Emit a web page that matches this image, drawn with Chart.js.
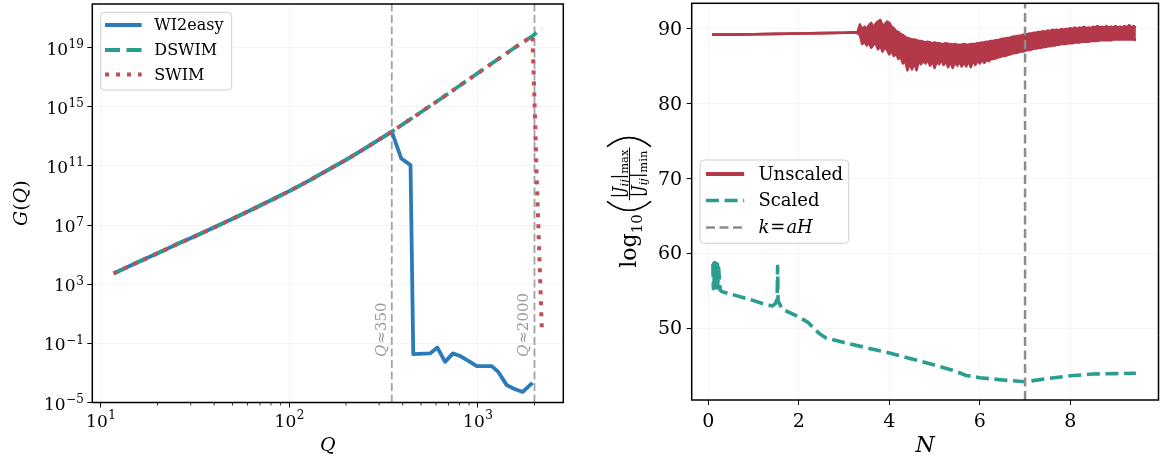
<!DOCTYPE html>
<html>
<head>
<meta charset="utf-8">
<script src="https://cdn.jsdelivr.net/npm/chart.js@4.4.0/dist/chart.umd.min.js"></script>
<style>
  html, body { margin: 0; padding: 0; background: #fff; }
  #wrap { position: relative; width: 1167px; height: 461px; }
  #left { position: absolute; left: 0; top: 0; }
  #right { position: absolute; left: 580px; top: 0; }
</style>
</head>
<body>
<div id="wrap">
  <canvas id="left" width="580" height="461"></canvas>
  <canvas id="right" width="587" height="461"></canvas>
</div>
<script>
// ---- G(Q) panel data ----
// common branch, all three methods agree up to Q ~ 350
var qLow = [11.7, 15.8, 20.0, 25.1, 31.6, 39.8, 50.1, 63.1, 79.4, 100, 126, 158, 200, 251, 316, 350];
var gLow = [5.4e3, 3.2e4, 1.23e5, 4.8e5, 1.74e6, 6.8e6, 2.7e7, 1.1e8, 4.6e8, 2.0e9, 9.5e9, 4.8e10, 2.6e11, 1.48e12, 9.3e12, 2.1e13];
// DSWIM / SWIM keep growing
var qHigh = [398, 501, 631, 794, 1000, 1259, 1585, 1950];
var gHigh = [6.3e13, 4.5e14, 3.3e15, 2.5e16, 1.9e17, 1.45e18, 1.1e19, 6.2e19];
var qDswimEnd = [2193];
var gDswimEnd = [1.9e20];
// SWIM breaks down right after Q ~ 2000
var qSwimDrop = [2000, 2047, 2103, 2163, 2191];
var gSwimDrop = [2.9e15, 8.9e10, 2.75e6, 83, 0.47];
// WI2easy breaks down right after Q ~ 350
var qWiTail = [393, 440, 455, 558, 611, 671, 738, 806, 892, 988, 1187, 1286, 1425, 1577, 1733, 1950];
var gWiTail = [3.2e11, 1.15e11, 0.0186, 0.021, 0.052, 0.0056, 0.021, 0.014, 0.0066, 0.0029, 0.0029, 0.00117, 1.5e-4, 7.9e-5, 5.2e-5, 2.1e-4];

var qMarks = [350, 2000];
var qTickExp = [1, 2, 3];
var gTickExp = [-5, -1, 3, 7, 11, 15, 19];
var qMinor = [20, 30, 40, 50, 60, 70, 80, 90, 200, 300, 400, 500, 600, 700, 800, 900, 2000];

// ---- condition number panel data ----
var nFlat = [0.08, 0.5, 1.0, 1.5, 2.0, 2.5, 3.0, 3.25];
var vFlat = [89.25, 89.25, 89.3, 89.35, 89.4, 89.45, 89.5, 89.55];
// the unscaled curve oscillates fast after N ~ 3.3: its upper and lower
// envelopes, sampled every 0.05 in N from N = 3.30
var nBandStart = 3.30, nBandStep = 0.05;
var vUpper = [
  89.6, 90.6, 89.9, 90.3, 90.0, 90.5, 90.8, 90.2, 90.7, 91.0,
  91.2, 90.5, 90.6, 91.0, 90.8, 90.3, 90.1, 89.7, 89.6, 89.3,
  89.2, 88.9, 88.8, 88.7, 88.6, 88.6, 88.5, 88.4, 88.4, 88.3,
  88.2, 88.3, 88.2, 88.1, 88.2, 88.1, 88.1, 88.0, 88.0, 88.1,
  88.0, 88.0, 87.9, 88.0, 87.9, 87.9, 87.9, 88.0, 87.9, 87.9,
  88.0, 88.0, 88.0, 88.1, 88.1, 88.2, 88.2, 88.3, 88.3, 88.4,
  88.4, 88.5, 88.5, 88.6, 88.7, 88.7, 88.8, 88.8, 88.9, 89.0,
  89.0, 89.1, 89.1, 89.2, 89.3, 89.3, 89.4, 89.4, 89.5, 89.5,
  89.6, 89.6, 89.7, 89.6, 89.8, 89.7, 89.9, 89.8, 89.9, 89.8,
  90.0, 89.9, 90.0, 90.0, 90.1, 90.0, 90.2, 90.0, 90.2, 90.1,
  90.3, 90.1, 90.2, 90.1, 90.3, 90.2, 90.4, 90.2, 90.3, 90.2,
  90.4, 90.2, 90.3, 90.2, 90.4, 90.2, 90.3, 90.2, 90.4, 90.2,
  90.5, 90.2, 90.4, 90.2
];
var vLower = [
  89.4, 89.2, 88.0, 88.3, 87.8, 88.2, 87.5, 87.9, 88.1, 87.3,
  87.8, 87.0, 87.6, 87.2, 86.6, 87.1, 86.4, 86.8, 86.0, 86.3,
  85.4, 85.8, 84.5, 85.5, 84.6, 85.6, 84.5, 85.7, 85.3, 85.8,
  85.4, 85.9, 85.1, 85.8, 84.8, 85.7, 85.3, 85.9, 85.2, 85.8,
  84.9, 85.7, 84.8, 85.6, 85.1, 85.7, 85.0, 85.6, 85.0, 85.8,
  84.9, 85.8, 85.2, 85.8, 85.4, 85.9, 85.5, 85.9, 85.7, 86.0,
  86.0, 86.1, 86.2, 86.3, 86.4, 86.4, 86.5, 86.6, 86.7, 86.8,
  86.8, 86.9, 87.0, 87.0, 87.1, 87.2, 87.2, 87.3, 87.4, 87.4,
  87.5, 87.5, 87.6, 87.6, 87.7, 87.7, 87.8, 87.8, 87.9, 87.9,
  88.0, 88.0, 88.0, 88.1, 88.1, 88.1, 88.2, 88.2, 88.2, 88.3,
  88.3, 88.3, 88.3, 88.4, 88.4, 88.4, 88.4, 88.5, 88.5, 88.5,
  88.5, 88.5, 88.5, 88.6, 88.6, 88.6, 88.6, 88.6, 88.6, 88.6,
  88.6, 88.6, 88.6, 88.5
];
var nScaled = [0.10, 0.11, 0.12, 0.13, 0.14, 0.15, 0.16, 0.17, 0.18, 0.19, 0.20, 0.21, 0.22, 0.26, 0.30, 0.60, 1.00, 1.30, 1.42, 1.48,
               1.52, 1.53, 1.54, 1.58, 1.62, 2.00, 2.20, 2.45, 2.60, 3.00, 3.50, 4.00, 4.50, 5.00, 5.40, 5.70, 6.00, 6.50, 7.00, 7.50,
               8.00, 8.50, 9.00, 9.45];
var vScaled = [58.6, 55.3, 58.7, 55.4, 58.8, 55.3, 58.7, 55.5, 58.8, 55.4, 58.6, 55.5, 58.5, 55.1, 54.9, 54.4, 53.7, 53.1, 53.0, 53.3,
               53.9, 58.3, 53.7, 53.2, 52.6, 51.5, 50.8, 49.3, 48.7, 48.1, 47.4, 46.7, 45.9, 45.1, 44.4, 43.7, 43.4, 43.1, 42.85, 43.3,
               43.65, 43.9, 43.95, 44.0];
var nHorizon = 7.0;
var nTicks = [0, 2, 4, 6, 8];
var vTicks = [50, 60, 70, 80, 90];

var SERIF = "'DejaVu Serif', serif";
var BLUE = '#2b7bba', TEAL = '#2a9d8f', RED = '#c44e57', CRIMSON = '#b3394a';

function pts(xs, ys) {
  return xs.map(function (x, i) { return { x: x, y: ys[i] }; });
}

function sup(n) { return n < 0 ? '\u2212' + (-n) : String(n); }

function roundRect(ctx, x, y, w, h, r) {
  ctx.beginPath();
  ctx.moveTo(x + r, y);
  ctx.arcTo(x + w, y, x + w, y + h, r);
  ctx.arcTo(x + w, y + h, x, y + h, r);
  ctx.arcTo(x, y + h, x, y, r);
  ctx.arcTo(x, y, x + w, y, r);
  ctx.closePath();
}

function legendBox(ctx, x0, y0, x1, y1) {
  roundRect(ctx, x0, y0, x1 - x0, y1 - y0, 4);
  ctx.fillStyle = 'rgba(255,255,255,0.8)';
  ctx.fill();
  ctx.strokeStyle = '#cfcfcf';
  ctx.lineWidth = 1;
  ctx.stroke();
}

function sample(ctx, x0, x1, y, color, width, dash) {
  ctx.save();
  ctx.beginPath();
  ctx.setLineDash(dash || []);
  ctx.strokeStyle = color;
  ctx.lineWidth = width;
  ctx.moveTo(x0, y);
  ctx.lineTo(x1, y);
  ctx.stroke();
  ctx.restore();
}

function frame(ctx, a) {
  ctx.strokeStyle = '#000';
  ctx.lineWidth = 1.5;
  ctx.strokeRect(a.left, a.top, a.right - a.left, a.bottom - a.top);
}

// ---------------------------------------------------------------- left
var gMin = 1e-5, gMax = 9.1e21, qMin = 9.02, qMax = 2844;

var lowPts = pts(qLow, gLow);
var wiData = lowPts.concat(pts(qWiTail, gWiTail));
var dswimData = lowPts.concat(pts(qHigh, gHigh), pts(qDswimEnd, gDswimEnd));
var swimData = lowPts.concat(pts(qHigh, gHigh), pts(qSwimDrop, gSwimDrop));

var leftDecor = {
  id: 'leftDecor',
  afterDatasetsDraw: function (chart) {
    var ctx = chart.ctx, a = chart.chartArea, xs = chart.scales.x, ys = chart.scales.y;
    ctx.save();

    // minor ticks on the Q axis
    ctx.strokeStyle = '#000';
    ctx.lineWidth = 0.8;
    qMinor.forEach(function (v) {
      var px = xs.getPixelForValue(v);
      ctx.beginPath();
      ctx.moveTo(px, a.bottom);
      ctx.lineTo(px, a.bottom + 3);
      ctx.stroke();
    });
    frame(ctx, a);

    // tick labels 10^n
    ctx.fillStyle = '#000';
    ctx.textBaseline = 'alphabetic';
    ctx.textAlign = 'left';
    gTickExp.forEach(function (e) {
      var py = ys.getPixelForValue(Math.pow(10, e));
      ctx.font = '17px ' + SERIF;
      var w10 = ctx.measureText('10').width;
      ctx.font = '12px ' + SERIF;
      var we = ctx.measureText(sup(e)).width;
      var x0 = a.left - 9 - w10 - we;
      ctx.font = '17px ' + SERIF;
      ctx.fillText('10', x0, py + 7);
      ctx.font = '12px ' + SERIF;
      ctx.fillText(sup(e), x0 + w10 + 0.5, py + 0.5);
    });
    qTickExp.forEach(function (e) {
      var px = xs.getPixelForValue(Math.pow(10, e));
      ctx.font = '17px ' + SERIF;
      var w10 = ctx.measureText('10').width;
      ctx.font = '12px ' + SERIF;
      var we = ctx.measureText(sup(e)).width;
      var x0 = px - (w10 + we) / 2;
      ctx.font = '17px ' + SERIF;
      ctx.fillText('10', x0, a.bottom + 24);
      ctx.font = '12px ' + SERIF;
      ctx.fillText(sup(e), x0 + w10 + 0.5, a.bottom + 16.5);
    });

    // axis titles
    ctx.font = 'italic 19px ' + SERIF;
    ctx.textAlign = 'center';
    ctx.fillText('Q', (a.left + a.right) / 2, 451);

    ctx.save();
    ctx.translate(27, (a.top + a.bottom) / 2);
    ctx.rotate(-Math.PI / 2);
    var parts = [['italic 19px ', 'G'], ['19px ', '('], ['italic 19px ', 'Q'], ['19px ', ')']];
    var tw = 0;
    parts.forEach(function (p) { ctx.font = p[0] + SERIF; tw += ctx.measureText(p[1]).width; });
    var cx = -tw / 2;
    ctx.textAlign = 'left';
    parts.forEach(function (p) { ctx.font = p[0] + SERIF; ctx.fillText(p[1], cx, 0); cx += ctx.measureText(p[1]).width; });
    ctx.restore();

    // rotated notes next to the dashed markers
    ctx.fillStyle = '#9a9a9a';
    qMarks.forEach(function (q) {
      var px = xs.getPixelForValue(q);
      ctx.save();
      ctx.translate(px - 6, 357);
      ctx.rotate(-Math.PI / 2);
      ctx.textAlign = 'left';
      ctx.font = 'italic 15px ' + SERIF;
      ctx.fillText('Q', 0, 0);
      var wq = ctx.measureText('Q').width;
      ctx.font = '15px ' + SERIF;
      ctx.fillText('\u2248' + q, wq + 1, 0);
      ctx.restore();
    });

    // legend
    legendBox(ctx, 100.7, 12.3, 231.7, 90);
    sample(ctx, 105, 141.7, 25, BLUE, 3.8);
    sample(ctx, 105, 141.7, 50, TEAL, 3.8, [15, 6.5]);
    sample(ctx, 105, 141.7, 74.5, RED, 4, [4, 7]);
    ctx.fillStyle = '#000';
    ctx.font = '16px ' + SERIF;
    ctx.textAlign = 'left';
    ctx.textBaseline = 'middle';
    ctx.fillText('WI2easy', 154.3, 26);
    ctx.fillText('DSWIM', 154.3, 51);
    ctx.fillText('SWIM', 154.3, 75.5);

    ctx.restore();
  }
};

new Chart(document.getElementById('left'), {
  type: 'line',
  data: {
    datasets: [
      { label: 'WI2easy', data: wiData, borderColor: BLUE, borderWidth: 3.8, order: 3 },
      { label: 'DSWIM', data: dswimData, borderColor: TEAL, borderWidth: 3.8, borderDash: [15, 6.5], order: 2 },
      { label: 'SWIM', data: swimData, borderColor: RED, borderWidth: 4, borderDash: [4, 7], order: 1 },
      { data: [{ x: qMarks[0], y: gMin }, { x: qMarks[0], y: gMax }], borderColor: '#a3a3a3', borderWidth: 1.8, borderDash: [8, 3.5], order: 5 },
      { data: [{ x: qMarks[1], y: gMin }, { x: qMarks[1], y: gMax }], borderColor: '#a3a3a3', borderWidth: 1.8, borderDash: [8, 3.5], order: 5 }
    ]
  },
  options: {
    responsive: false,
    animation: false,
    layout: { padding: { top: 4, right: 16.7, left: 0, bottom: 0 } },
    elements: {
      point: { radius: 0, hoverRadius: 0 },
      line: { tension: 0, fill: false, borderJoinStyle: 'round' }
    },
    plugins: { legend: { display: false }, tooltip: { enabled: false } },
    scales: {
      x: {
        type: 'logarithmic', min: qMin, max: qMax,
        afterBuildTicks: function (s) { s.ticks = qTickExp.map(function (e) { return { value: Math.pow(10, e) }; }); },
        afterFit: function (s) { s.height = 58.5; },
        ticks: { display: false },
        border: { display: false },
        grid: { color: 'rgba(0,0,0,0.06)', lineWidth: 0.8, tickColor: '#000', tickLength: 5, tickWidth: 1 }
      },
      y: {
        type: 'logarithmic', min: gMin, max: gMax,
        afterBuildTicks: function (s) { s.ticks = gTickExp.map(function (e) { return { value: Math.pow(10, e) }; }); },
        afterFit: function (s) { s.width = 92.3; },
        ticks: { display: false },
        border: { display: false },
        grid: { color: 'rgba(0,0,0,0.06)', lineWidth: 0.8, tickColor: '#000', tickLength: 5, tickWidth: 1 }
      }
    }
  },
  plugins: [leftDecor]
});

// ---------------------------------------------------------------- right
var vMin = 40.42, vMax = 93.43, nMin = -0.369, nMax = 9.95;

function bandN(i) { return +(nBandStart + i * nBandStep).toFixed(2); }
var flatPts = pts(nFlat, vFlat);
var upperData = flatPts.concat(vUpper.map(function (v, i) { return { x: bandN(i), y: v }; }));
var lowerData = flatPts.concat(vLower.map(function (v, i) { return { x: bandN(i), y: v }; }));
var scaledData = pts(nScaled, vScaled);

function drawRatioLabel(ctx, cx, cy) {
  ctx.save();
  ctx.translate(cx, cy);
  ctx.rotate(-Math.PI / 2);
  ctx.fillStyle = '#000';
  ctx.strokeStyle = '#000';
  ctx.textAlign = 'left';
  ctx.textBaseline = 'alphabetic';

  function w(font, s) { ctx.font = font + SERIF; return ctx.measureText(s).width; }
  var num = [['16px ', '|', 0], ['italic 16px ', 'J', 0], ['italic 11.5px ', 'ij', 4], ['16px ', '|', 0], ['11.5px ', 'max', 4]];
  var den = [['16px ', '|', 0], ['italic 16px ', 'J', 0], ['italic 11.5px ', 'ij', 4], ['16px ', '|', 0], ['11.5px ', 'min', 4]];
  function runW(run) { return run.reduce(function (s, p) { return s + w(p[0], p[1]); }, 0); }
  function drawRun(run, x, y) { run.forEach(function (p) { ctx.font = p[0] + SERIF; ctx.fillText(p[1], x, y + p[2]); x += ctx.measureText(p[1]).width; }); }

  var wLog = w('22px ', 'log'), w10 = w('15px ', '10');
  var wNum = runW(num), wDen = runW(den), wFrac = Math.max(wNum, wDen) + 4;
  var parW = 12;
  var total = wLog + w10 + 2 + parW + wFrac + parW;
  var x = -total / 2;

  ctx.font = '22px ' + SERIF;
  ctx.fillText('log', x, 7);
  x += wLog;
  ctx.font = '15px ' + SERIF;
  ctx.fillText('10', x, 12.5);
  x += w10 + 2;

  ctx.lineWidth = 1.6;
  ctx.beginPath();
  ctx.moveTo(x + parW - 1, -22);
  ctx.quadraticCurveTo(x - 7, 0, x + parW - 1, 22);
  ctx.stroke();
  x += parW;

  drawRun(num, x + (wFrac - wNum) / 2, -5);
  ctx.lineWidth = 1;
  ctx.beginPath();
  ctx.moveTo(x, 0.5);
  ctx.lineTo(x + wFrac, 0.5);
  ctx.stroke();
  drawRun(den, x + (wFrac - wDen) / 2, 14);
  x += wFrac;

  ctx.lineWidth = 1.6;
  ctx.beginPath();
  ctx.moveTo(x + 1, -22);
  ctx.quadraticCurveTo(x + parW + 7, 0, x + 1, 22);
  ctx.stroke();
  ctx.restore();
}

var rightDecor = {
  id: 'rightDecor',
  afterDatasetsDraw: function (chart) {
    var ctx = chart.ctx, a = chart.chartArea, xs = chart.scales.x, ys = chart.scales.y;
    ctx.save();
    frame(ctx, a);

    // tick labels
    ctx.fillStyle = '#000';
    ctx.font = '19px ' + SERIF;
    ctx.textBaseline = 'middle';
    ctx.textAlign = 'right';
    vTicks.forEach(function (v) { ctx.fillText(String(v), a.left - 9.5, ys.getPixelForValue(v) + 1); });
    ctx.textBaseline = 'alphabetic';
    ctx.textAlign = 'center';
    nTicks.forEach(function (v) { ctx.fillText(String(v), xs.getPixelForValue(v), a.bottom + 26.5); });

    ctx.font = 'italic 22px ' + SERIF;
    ctx.fillText('N', (a.left + a.right) / 2, 452);

    drawRatioLabel(ctx, 49, (a.top + a.bottom) / 2);

    // legend
    legendBox(ctx, 120.1, 160, 268.7, 243.3);
    sample(ctx, 126, 164.2, 174, CRIMSON, 4);
    sample(ctx, 126, 164.2, 200.5, TEAL, 3.6, [13, 5.6]);
    sample(ctx, 126, 164.2, 227.5, '#8c8c8c', 2.5, [9, 4.5]);
    ctx.fillStyle = '#000';
    ctx.textAlign = 'left';
    ctx.textBaseline = 'middle';
    ctx.font = '18px ' + SERIF;
    ctx.fillText('Unscaled', 178.4, 175);
    ctx.fillText('Scaled', 178.4, 201);
    var x = 178.4;
    ctx.font = 'italic 18px ' + SERIF;
    ctx.fillText('k', x, 228);
    x += ctx.measureText('k').width + 1;
    ctx.font = '18px ' + SERIF;
    ctx.fillText('=', x, 228);
    x += ctx.measureText('=').width + 1;
    ctx.font = 'italic 18px ' + SERIF;
    ctx.fillText('aH', x, 228);
    ctx.restore();
  }
};

new Chart(document.getElementById('right'), {
  type: 'line',
  data: {
    datasets: [
      { label: 'k = aH', data: [{ x: nHorizon, y: vMin }, { x: nHorizon, y: vMax }], borderColor: '#8c8c8c', borderWidth: 2.5, borderDash: [9, 4.5], order: 0 },
      // unscaled: band between the envelopes
      { label: 'Unscaled', data: upperData, borderColor: CRIMSON, backgroundColor: CRIMSON, borderWidth: 2.6, fill: '+1', order: 2 },
      { data: lowerData, borderColor: CRIMSON, borderWidth: 2.6, order: 2 },
      { label: 'Scaled', data: scaledData, borderColor: TEAL, borderWidth: 3.6, borderDash: [13, 5.6], order: 1 }
    ]
  },
  options: {
    responsive: false,
    animation: false,
    layout: { padding: { top: 3.3, right: 8.5, left: 0, bottom: 0 } },
    elements: {
      point: { radius: 0, hoverRadius: 0 },
      line: { tension: 0, borderJoinStyle: 'round' }
    },
    plugins: { legend: { display: false }, tooltip: { enabled: false } },
    scales: {
      x: {
        type: 'linear', min: nMin, max: nMax,
        afterBuildTicks: function (s) { s.ticks = nTicks.map(function (v) { return { value: v }; }); },
        afterFit: function (s) { s.height = 61; },
        ticks: { display: false },
        border: { display: false },
        grid: { color: 'rgba(0,0,0,0.05)', lineWidth: 0.8, tickColor: '#000', tickLength: 5, tickWidth: 1 }
      },
      y: {
        type: 'linear', min: vMin, max: vMax,
        afterBuildTicks: function (s) { s.ticks = vTicks.map(function (v) { return { value: v }; }); },
        afterFit: function (s) { s.width = 111.7; },
        ticks: { display: false },
        border: { display: false },
        grid: { color: 'rgba(0,0,0,0.05)', lineWidth: 0.8, tickColor: '#000', tickLength: 5, tickWidth: 1 }
      }
    }
  },
  plugins: [rightDecor]
});
</script>
</body>
</html>
